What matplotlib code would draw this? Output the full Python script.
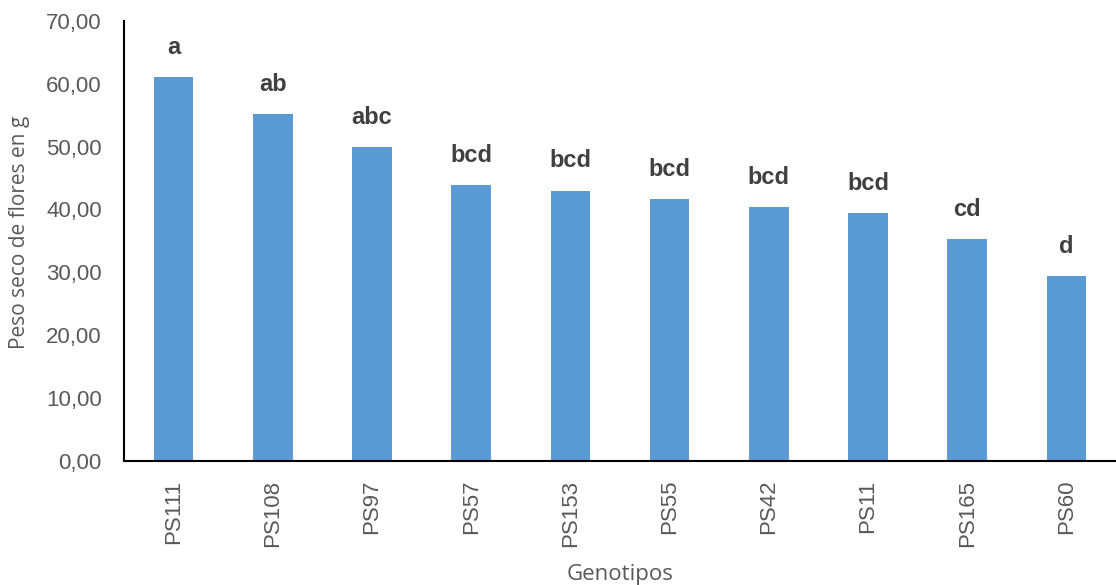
import numpy as np
import matplotlib.pyplot as plt

genotipos = ['PS111', 'PS108', 'PS97', 'PS57', 'PS153', 'PS55', 'PS42', 'PS11', 'PS165', 'PS60']
peso = [61.1, 55.2, 49.9, 43.8, 43.0, 41.7, 40.4, 39.4, 35.2, 29.4]
letras = ['a', 'ab', 'abc', 'bcd', 'bcd', 'bcd', 'bcd', 'bcd', 'cd', 'd']
yticks = [0, 10, 20, 30, 40, 50, 60, 70]

plt.rcParams['font.family'] = ['Liberation Sans', 'DejaVu Sans']
gris = '#595959'

fig = plt.figure(figsize=(11.16, 5.85), dpi=100)
ax = fig.add_axes([124 / 1116, 1 - 460.5 / 585, 1 - 124 / 1116, (460.5 - 21) / 585])

x = np.arange(len(genotipos))
ax.bar(x, peso, width=0.4, color='#5B9BD5')
for xi, v, l in zip(x, peso, letras):
    ax.annotate(l, (xi, v), xytext=(0, 13), textcoords='offset points',
                ha='center', va='bottom', fontsize=17, fontweight='bold', color='#404040')

ax.set_xlim(-0.5, len(genotipos) - 0.5)
ax.set_ylim(0, 70)
ax.set_yticks(yticks)
ax.set_yticklabels([f'{t:.2f}'.replace('.', ',') for t in yticks])
ax.set_xticks(x)
ax.set_xticklabels(genotipos, rotation=90)
ax.tick_params(axis='both', length=0, labelsize=16, colors=gris)
ax.tick_params(axis='x', pad=14)
ax.tick_params(axis='y', pad=16)

for s in ['top', 'right']:
    ax.spines[s].set_visible(False)
ax.spines['left'].set_linewidth(1.5)
ax.spines['bottom'].set_linewidth(1.5)

ax.set_ylabel('Peso seco de flores en g', fontsize=15, color=gris, family='Open Sans')
ax.yaxis.set_label_coords(-0.095, 0.52)
ax.set_xlabel('Genotipos', fontsize=16, color=gris, family='Open Sans', labelpad=12)

fig.savefig('out.png', dpi=100)
